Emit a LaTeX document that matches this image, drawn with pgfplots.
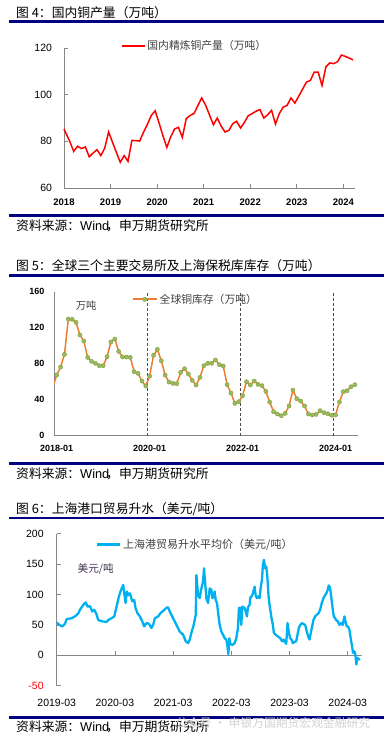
\documentclass[border=0pt]{standalone}
\usepackage{pgfplots}
\pgfplotsset{compat=1.18}
\usepackage{fontspec}
\setmainfont{Liberation Sans}
\newfontfamily\cjk{Noto Sans CJK SC}
\definecolor{navyrule}{HTML}{000080}
\definecolor{axgray}{HTML}{868686}
\definecolor{cuorange}{HTML}{ED7D31}
\definecolor{cugreen}{HTML}{9BBB59}
\definecolor{cugreenedge}{HTML}{7F9F45}
\definecolor{skyblue}{HTML}{00B0F0}
\definecolor{annpurple}{HTML}{403152}
\definecolor{legtext}{HTML}{404040}

\newcommand{\wind}{\makebox[26pt][s]{W\hfill i\hfill n\hfill d}}
\newcommand{\srcline}{{\cjk 资料来源：}\wind{\cjk ，申万期货研究所}}

\begin{document}
\begin{tikzpicture}
\useasboundingbox (0pt,0pt) rectangle (389pt,-738pt);

% ---------------- Chart 1 ----------------
\node[anchor=west, inner sep=0, font=\cjk\fontsize{12.8}{14}\selectfont] at (16pt,-12.5pt) {图 4：国内铜产量（万吨）};
\fill[navyrule] (9pt,-20.5pt) rectangle (383.5pt,-23pt);

\begin{axis}[
  at={(64pt,-188pt)}, anchor=south west, scale only axis,
  width=291pt, height=140pt,
  xmin=0, xmax=75, ymin=60, ymax=120,
  axis lines=left, axis line style={axgray, line width=0.8pt, -},
  xtick={0,12,24,36,48,60,72},
  xticklabels={2018,2019,2020,2021,2022,2023,2024},
  ytick={60,80,100,120}, yticklabels={60,80,100,120},
  tick align=inside, major tick length=4pt, tick style={axgray, line width=0.8pt},
  xticklabel style={font=\bfseries\fontsize{9.5}{10}\selectfont, yshift=-7.5pt},
  yticklabel style={font=\fontsize{10.5}{11}\selectfont, xshift=-8.5pt},
  /pgf/number format/assume math mode=true,
  legend style={draw=none, fill=none, inner sep=0pt, at={(0.195,1.014)}, anchor=west,
    font=\cjk\fontsize{10.8}{12}\selectfont, text=legtext},
  legend image code/.code={\draw[#1] (0pt,0pt) -- (23pt,0pt);},
  clip=false,
]
\addplot[red, line width=1.5pt] coordinates {
(0,85.3) (1.5,79.9) (2.5,75.7) (3.5,77.9) (4.5,76.9) (5.5,77.6) (6.5,73.4) (7.5,75.0)
(8.5,76.4) (9.5,73.9) (10.5,77.1) (11.5,84.0) (12.5,79.6) (13.5,75.3) (14.5,71.0)
(15.5,73.9) (16.5,71.4) (17.5,80.4) (18.5,80.3) (19.5,80.1) (20.5,83.9) (21.5,87.3)
(22.5,91.1) (23.5,93.1) (24.5,87.9) (25.5,82.4) (26.5,77.4) (27.5,81.9) (28.5,85.3)
(29.5,86.0) (30.5,81.7) (31.5,89.7) (32.5,91.1) (33.5,91.9) (34.5,95.3) (35.5,98.6)
(36.5,95.5) (37.5,91.3) (38.5,87.1) (39.5,90.0) (40.5,86.5) (41.5,84.0) (42.5,84.7)
(43.5,87.6) (44.5,88.6) (45.5,85.7) (46.5,88.1) (47.5,91.0) (48.5,91.9) (49.5,92.9)
(50.5,93.6) (51.5,90.0) (52.5,91.4) (53.5,93.3) (54.5,87.4) (55.5,91.9) (56.5,94.7)
(57.5,95.4) (58.5,98.6) (59.5,96.4) (60.5,99.3) (61.5,102.4) (62.5,105.4) (63.5,106.1)
(64.5,109.7) (65.5,109.7) (66.5,103.9) (67.5,111.9) (68.5,113.6) (69.5,113.3)
(70.5,114.1) (71.5,117.0) (72.5,116.4) (73.5,115.7) (74.5,114.9)
};
\addlegendentry{国内精炼铜产量（万吨）}
\end{axis}

\fill[navyrule] (9pt,-214pt) rectangle (383.5pt,-216.5pt);
\node[anchor=west, inner sep=0, font=\fontsize{12.8}{14}\selectfont] at (16pt,-226pt) {\srcline};

% ---------------- Chart 2 ----------------
\node[anchor=west, inner sep=0, font=\cjk\fontsize{12.8}{14}\selectfont] at (16pt,-265.7pt) {图 5：全球三个主要交易所及上海保税库库存（万吨）};
\fill[navyrule] (9pt,-274pt) rectangle (383.5pt,-276.5pt);

\begin{axis}[
  at={(54pt,-435.7pt)}, anchor=south west, scale only axis,
  width=304pt, height=144pt,
  xmin=0, xmax=78.5, ymin=0, ymax=160,
  axis lines=left, axis line style={axgray, line width=0.8pt, -},
  xtick={0.7,24.7,48.7,72.7},
  xticklabels={2018-01,2020-01,2022-01,2024-01},
  ytick={0,40,80,120,160}, yticklabels={0,40,80,120,160},
  major tick length=0pt,
  extra x ticks={24,48,72}, extra x tick labels={},
  extra x tick style={grid=major, major grid style={black!70, line width=0.6pt, dash pattern=on 3pt off 2pt}},
  xticklabel style={font=\bfseries\fontsize{9}{10}\selectfont, yshift=-6.3pt},
  yticklabel style={font=\bfseries\fontsize{9}{10}\selectfont, xshift=-6pt},
  /pgf/number format/assume math mode=true,
  legend style={draw=none, fill=none, inner sep=0pt, at={(0.255,0.947)}, anchor=west,
    font=\cjk\fontsize{10.8}{12}\selectfont, text=legtext},
  legend image code/.code={\draw[#1, mark repeat=2, mark phase=2] plot coordinates {(0pt,0pt) (12pt,0pt) (24pt,0pt)};},
]
\addplot[cuorange, line width=1.5pt, forget plot] coordinates {
(0,58) (0.7,67.4) (1.7,76.3) (2.7,90.4) (3.7,129.6) (4.7,129.3) (5.7,125.9) (6.7,111.9)
(7.7,105.2) (8.7,87.0) (9.7,82.6) (10.7,80.4) (11.7,77.8) (12.7,77.8) (13.7,87.8)
(14.7,104.1) (15.7,107.4) (16.7,93.7) (17.7,87.4) (18.7,87.4) (19.7,87.0) (20.7,71.1)
(21.7,69.3) (22.7,60.7) (23.7,55.2) (24.7,66.3) (25.7,89.3) (26.7,95.9) (27.7,83.3)
(28.7,67.4) (29.7,59.6) (30.7,58.1) (31.7,57.8) (32.7,70.4) (33.7,74.4) (34.7,68.5)
(35.7,61.5) (36.7,56.3) (37.7,64.8) (38.7,77.8) (39.7,80.4) (40.7,80.4) (41.7,84.1)
(42.7,78.9) (43.7,77.4) (44.7,56.7) (45.7,47.4) (46.7,35.9) (47.7,37.8) (48.7,44.4)
(49.7,60.0) (50.7,56.3) (51.7,60.7) (52.7,57.0) (53.7,55.6) (54.7,49.3) (55.7,37.4)
(56.7,26.7) (57.7,24.1) (58.7,22.2) (59.7,24.8) (60.7,33.0) (61.7,50.7) (62.7,41.1)
(63.7,38.5) (64.7,33.0) (65.7,24.1) (66.7,23.0) (67.7,23.7) (68.7,27.8) (69.7,25.6)
(70.7,24.4) (71.7,22.6) (72.7,23.0) (73.7,37.4) (74.7,48.9) (75.7,50.0) (76.7,54.4)
(77.7,56.7)
};
\addplot[only marks, mark=*, mark size=2.1pt, mark options={fill=cugreen, draw=cugreenedge, line width=0.4pt}, forget plot] coordinates {
(0.7,67.4) (1.7,76.3) (2.7,90.4) (3.7,129.6) (4.7,129.3) (5.7,125.9) (6.7,111.9)
(7.7,105.2) (8.7,87.0) (9.7,82.6) (10.7,80.4) (11.7,77.8) (12.7,77.8) (13.7,87.8)
(14.7,104.1) (15.7,107.4) (16.7,93.7) (17.7,87.4) (18.7,87.4) (19.7,87.0) (20.7,71.1)
(21.7,69.3) (22.7,60.7) (23.7,55.2) (24.7,66.3) (25.7,89.3) (26.7,95.9) (27.7,83.3)
(28.7,67.4) (29.7,59.6) (30.7,58.1) (31.7,57.8) (32.7,70.4) (33.7,74.4) (34.7,68.5)
(35.7,61.5) (36.7,56.3) (37.7,64.8) (38.7,77.8) (39.7,80.4) (40.7,80.4) (41.7,84.1)
(42.7,78.9) (43.7,77.4) (44.7,56.7) (45.7,47.4) (46.7,35.9) (47.7,37.8) (48.7,44.4)
(49.7,60.0) (50.7,56.3) (51.7,60.7) (52.7,57.0) (53.7,55.6) (54.7,49.3) (55.7,37.4)
(56.7,26.7) (57.7,24.1) (58.7,22.2) (59.7,24.8) (60.7,33.0) (61.7,50.7) (62.7,41.1)
(63.7,38.5) (64.7,33.0) (65.7,24.1) (66.7,23.0) (67.7,23.7) (68.7,27.8) (69.7,25.6)
(70.7,24.4) (71.7,22.6) (72.7,23.0) (73.7,37.4) (74.7,48.9) (75.7,50.0) (76.7,54.4)
(77.7,56.7)
};
\addlegendimage{cuorange, line width=2pt, mark=*, mark size=2.1pt, mark options={fill=cugreen, draw=cugreenedge, line width=0.4pt}}
\addlegendentry{全球铜库存（万吨）}
\node[font=\cjk\fontsize{10.3}{12}\selectfont, text=legtext] at (axis cs:8.3,144.4) {万吨};
\end{axis}

\fill[navyrule] (9pt,-462pt) rectangle (383.5pt,-464.5pt);
\node[anchor=west, inner sep=0, font=\fontsize{12.8}{14}\selectfont] at (16pt,-473.3pt) {\srcline};

% ---------------- Chart 3 ----------------
\node[anchor=west, inner sep=0, font=\cjk\fontsize{12.8}{14}\selectfont] at (16pt,-508.7pt) {图 6：上海港口贸易升水（美元/吨）};
\fill[navyrule] (9pt,-516.7pt) rectangle (383.5pt,-519.2pt);

\begin{axis}[
  at={(56.7pt,-685.7pt)}, anchor=south west, scale only axis,
  width=305pt, height=152pt,
  xmin=0, xmax=5.24, ymin=-50, ymax=200,
  axis lines=left, axis line style={axgray, line width=0.8pt, -},
  x axis line style={draw=none},
  xtick={0,1,2,3,4,5},
  xticklabels={2019-03,2020-03,2021-03,2022-03,2023-03,2024-03},
  xtick style={draw=none},
  ytick={-50,0,50,100,150,200},
  yticklabels={{\textcolor{red}{-50}},0,50,100,150,200},
  ytick align=inside, major tick length=4pt, ytick style={axgray, line width=0.8pt},
  xticklabel style={font=\fontsize{10.5}{11}\selectfont, yshift=-7.5pt},
  yticklabel style={font=\fontsize{10.5}{11}\selectfont, xshift=-9.5pt},
  /pgf/number format/assume math mode=true,
  legend style={draw=none, fill=none, inner sep=0pt, at={(0.128,0.93)}, anchor=west,
    font=\cjk\fontsize{11}{12}\selectfont, text=legtext},
  legend image code/.code={\draw[#1] (0pt,0pt) -- (23pt,0pt);},
]
\addplot[axgray, line width=0.8pt, forget plot] coordinates {(0,0) (5.24,0)};
\addplot[axgray, line width=0.8pt, ycomb, forget plot] coordinates {(1,6.6) (2,6.6) (3,6.6) (4,6.6) (5,6.6)};
\addplot[skyblue, line width=2.3pt, line join=round] table {
x y
0.000 54
0.046 50
0.097 47.5
0.143 52
0.171 59.6
0.257 61
0.314 64
0.371 69
0.400 75
0.457 83
0.497 87
0.531 80
0.571 81
0.611 72
0.646 75
0.686 67
0.714 58
0.771 56
0.857 55
0.886 58
0.943 61
0.989 64
1.029 80
1.069 97
1.103 107
1.143 116
1.160 102
1.183 86
1.206 105
1.229 99
1.257 102
1.274 97
1.297 89
1.331 91
1.354 78
1.389 69
1.429 64
1.469 56
1.503 47.5
1.543 53
1.583 52
1.629 45
1.657 50
1.686 61
1.743 64
1.789 70
1.829 73
1.886 78
1.914 79
1.943 72
2.000 61
2.057 50
2.114 39
2.171 34
2.217 23
2.257 20
2.286 26
2.314 37
2.354 50
2.389 67
2.400 132
2.429 99
2.457 94
2.486 110
2.514 121
2.531 143
2.549 121
2.571 94
2.600 86
2.629 110
2.657 108
2.674 94
2.697 97
2.714 105
2.731 91
2.754 86
2.777 67
2.800 50
2.829 39
2.857 34
2.886 28
2.914 26
2.931 17
2.949 2
2.966 28
2.983 19
3.017 17
3.057 20
3.086 28
3.114 45
3.131 78
3.154 78
3.171 50
3.189 80
3.229 78
3.269 64
3.286 79
3.314 83
3.326 95
3.349 97
3.371 102
3.400 113
3.417 99
3.440 94
3.463 97
3.486 94
3.503 110
3.526 124
3.543 149
3.560 157
3.583 143
3.600 146
3.617 132
3.640 97
3.657 83
3.674 72
3.691 61
3.714 50
3.731 37
3.760 34
3.800 31
3.840 28
3.874 23
3.897 26
3.920 22
3.943 19
3.966 53
3.989 37
4.011 28
4.034 26
4.057 20
4.086 22
4.114 23
4.137 34
4.160 45
4.183 50
4.217 53
4.246 51
4.269 50
4.297 39
4.320 31
4.343 26
4.360 34
4.383 45
4.411 58
4.440 64
4.469 67
4.497 69
4.526 75
4.554 86
4.583 94
4.611 99
4.634 102
4.657 108
4.674 115
4.697 111
4.720 94
4.743 75
4.760 64
4.777 62
4.800 58
4.829 56
4.857 50
4.886 53
4.914 50
4.943 64
4.960 56
4.983 47.5
5.006 47.5
5.029 42
5.051 28
5.074 15
5.091 4
5.114 6.6
5.131 1
5.149 -15
5.166 -4
5.189 -7
5.211 -5.5
};
\addlegendentry{上海港贸易升水平均价（美元/吨）}
\node[font=\cjk\fontsize{10.6}{12}\selectfont, text=annpurple] at (axis cs:0.67,141.8) {美元/吨};
\end{axis}

\fill[navyrule] (9pt,-716pt) rectangle (383.5pt,-718.5pt);
\node[anchor=west, inner sep=0, font=\fontsize{12.8}{14}\selectfont] at (16pt,-727pt) {\srcline};
\node[anchor=west, inner sep=0, font=\cjk\fontsize{11.8}{13}\selectfont, text=black!18] at (176pt,-722.7pt) {公众号 · 申银万国期货宏观金融研究};
\end{tikzpicture}
\end{document}
